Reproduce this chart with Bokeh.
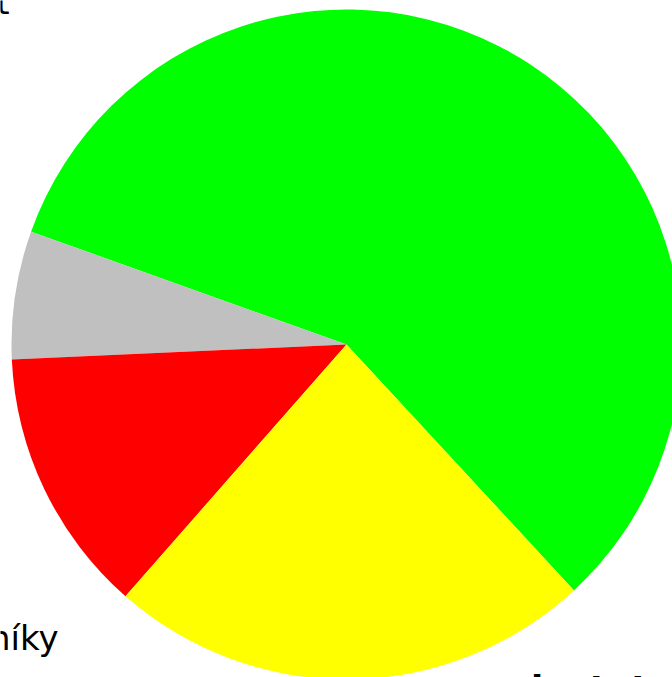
import math
from bokeh.plotting import figure
from bokeh.models import Range1d, ColumnDataSource
from bokeh.core.properties import value
from bokeh.embed import file_html
from bokeh.resources import INLINE

# ---- data ----
categories = ["zelená", "šedá", "červená", "žlutá"]
shares = [57.65, 6.18, 12.82, 23.35]          # percent, anticlockwise order
colors = ["#00FF00", "#C0C0C0", "#FF0000", "#FFFF00"]
label_texts = ["t", "níky", "dostat"]

# ---- layout ----
W, H = 672, 677
CX, CY, R = 346, 344, 335          # pie centre (page px) and radius
START_DEG = -47.22                 # angle where the first slice begins

p = figure(width=W, height=H, output_backend="svg", toolbar_location=None,
           x_range=Range1d(0, W), y_range=Range1d(0, H),
           min_border=0, min_border_left=0, min_border_right=0,
           min_border_top=0, min_border_bottom=0)
p.axis.visible = False
p.grid.visible = False
p.outline_line_color = None
p.background_fill_color = "white"
p.border_fill_color = "white"

total = sum(shares)
starts, ends = [], []
a = math.radians(START_DEG)
for s in shares:
    starts.append(a)
    a += 2 * math.pi * s / total
    ends.append(a)

src = ColumnDataSource(dict(cat=categories, share=shares, color=colors,
                            start=starts, end=ends,
                            x=[CX] * len(shares), y=[H - CY] * len(shares)))
p.wedge(x="x", y="y", radius=R, start_angle="start", end_angle="end",
        direction="anticlock", fill_color="color", line_color=None, source=src)

# partial labels (cut by the canvas edge as in the reference)
p.text(x=[9], y=[H - 21], text=[label_texts[0]], text_font=value("DejaVu Sans"),
       text_font_size="34px", text_align="right", text_baseline="bottom",
       text_color="black")
p.text(x=[58], y=[H - 617], text=[label_texts[1]], text_font=value("DejaVu Sans"),
       text_font_size="34px", text_align="right", text_baseline="top",
       text_color="black")
p.text(x=[517], y=[H - 667], text=[label_texts[2]],
       text_font=value("DejaVu Sans"),
       text_font_size="36px", text_font_style="bold", text_align="left",
       text_baseline="top", text_color="black")

open("out.html", "w").write(file_html(p, INLINE))
